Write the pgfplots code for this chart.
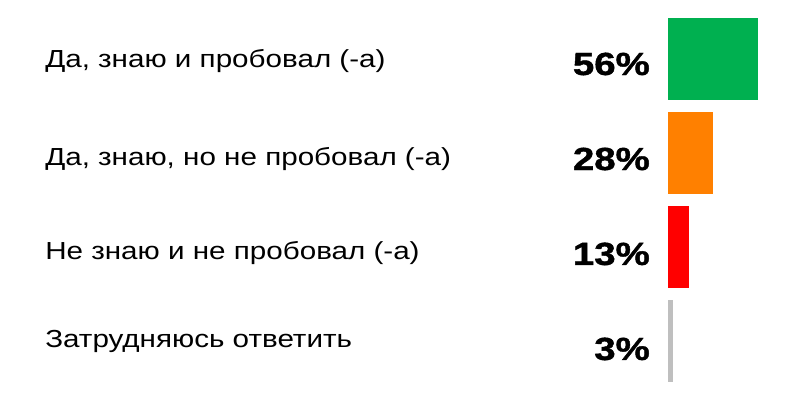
\documentclass[border=0pt]{standalone}
\usepackage{fontspec}
\setmainfont{Liberation Sans}
\newfontfamily\pctfont[FakeBold=1.2]{Liberation Sans Bold}
\usepackage{graphicx}
\usepackage{pgfplots}
\pgfplotsset{compat=1.18}
\definecolor{barGreen}{HTML}{00B050}
\definecolor{barOrange}{HTML}{FF8000}
\definecolor{barRed}{HTML}{FF0000}
\definecolor{barGray}{HTML}{BFBFBF}

\begin{document}
\begin{tikzpicture}
\begin{axis}[
    width=600pt, height=300pt, scale only axis,
    xmin=-415.7, xmax=82.1,
    ymin=-0.628, ymax=3.628, y dir=reverse,
    axis line style={draw=none}, xtick=\empty, ytick=\empty,
    clip=false,
]
% bars (share of answers, %)
\addplot[xbar, bar width=61pt, bar shift=0pt, fill=barGreen, draw=none] coordinates {(56,0)};
\addplot[xbar, bar width=61pt, bar shift=0pt, fill=barOrange, draw=none] coordinates {(28,1)};
\addplot[xbar, bar width=61pt, bar shift=0pt, fill=barRed, draw=none] coordinates {(13,2)};
\addplot[xbar, bar width=61pt, bar shift=0pt, fill=barGray, draw=none] coordinates {(3,3)};
% answer texts (placed at their baselines)
\addplot[draw=none, mark=none, point meta=explicit symbolic,
    nodes near coords={\scalebox{1.2}[1]{\pgfplotspointmeta}},
    nodes near coords align={anchor=base west},
    every node near coord/.append style={font=\fontsize{18.5}{22}\selectfont, text=black, inner sep=0pt}]
    coordinates {
    (-387.7,0.085) [Да, знаю и пробовал (-а)]
    (-387.7,1.128) [Да, знаю, но не пробовал (-а)]
    (-387.7,2.131) [Не знаю и не пробовал (-а)]
    (-387.7,3.074) [Затрудняюсь ответить]
    };
% percentages
\addplot[draw=none, mark=none, point meta=explicit symbolic,
    nodes near coords={\scalebox{1.2}[1]{\pgfplotspointmeta}},
    nodes near coords align={anchor=base east},
    every node near coord/.append style={font=\pctfont\fontsize{24}{28}\selectfont, text=black, inner sep=0pt}]
    coordinates {
    (-11.2,0.170) [56\%]
    (-11.2,1.181) [28\%]
    (-11.2,2.191) [13\%]
    (-11.2,3.202) [3\%]
    };
\end{axis}
\end{tikzpicture}
\end{document}
